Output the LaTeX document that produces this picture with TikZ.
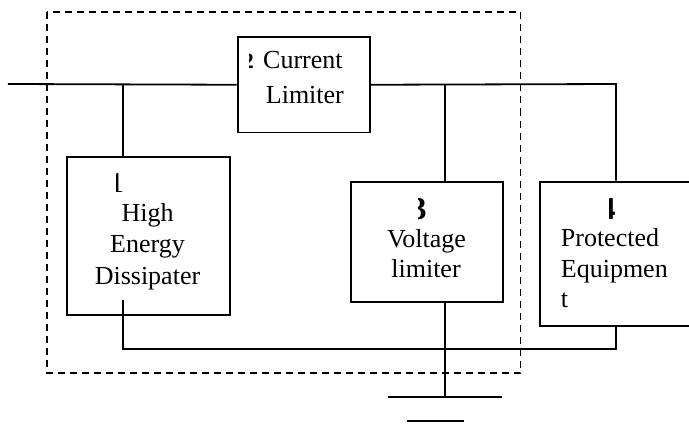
\documentclass[tikz,border=0pt]{standalone}
\usepackage{fontspec}
\setmainfont{Liberation Serif}
\begin{document}
\begin{tikzpicture}[x=1pt,y=-1pt,
  wire/.style={line width=1.8pt},
  blk/.style={draw,line width=1.8pt,rectangle,inner sep=0pt,anchor=north west},
  txt/.style={inner sep=0pt,font=\fontsize{26}{31}\selectfont},
  dig/.style={inner sep=0pt,anchor=base west},
  frame/.style={draw,line width=1.8pt,dash pattern=on 7pt off 5pt}]
\clip (0,0) rectangle (689,444);
\fill[white] (0,0) rectangle (689,444);
% dashed enclosure
\draw[frame] (47,12) rectangle (520.5,373);
% blocks
\node[blk,minimum width=132.5pt,minimum height=95.7pt] (cl) at (236.7,36) {};
\node[blk,minimum width=163pt,minimum height=158.3pt] (hed) at (66,155.7) {};
\node[blk,minimum width=152pt,minimum height=120pt] (vl) at (350,180.7) {};
\node[blk,minimum width=170pt,minimum height=144.3pt] (pe) at (539,180.7) {};
% coordinates
\coordinate (in) at (8,84);
\coordinate (j1) at (123,84);
\coordinate (j2) at (445,84);
\coordinate (j3) at (616,84);
\coordinate (h1) at (123,300);
\coordinate (h2) at (123,349);
\coordinate (p2) at (616,349);
\coordinate (g0) at (445,397);
\coordinate (ga) at (387.7,397);
\coordinate (gb) at (502,397);
\coordinate (gc) at (406.7,421);
\coordinate (gd) at (464,421);
% wires
\draw[wire] (in) -- (cl.west);
\draw[wire] (cl.east) -- (j3) -- (j3 |- pe.north);
\draw[wire] (j1) -- (j1 |- hed.north);
\draw[wire] (j2) -- (j2 |- vl.north);
\draw[wire] (h1) -- (h2) -- (p2) -- (p2 |- pe.south);
\draw[wire] (j2 |- vl.south) -- (g0);
\draw[wire] (ga) -- (gb);
\draw[wire] (gc) -- (gd);
% texts
\node[txt,anchor=base west] (clt1) at (263,69) {Current};
\node[txt,anchor=base west] (clt2) at (265.7,103) {Limiter};
\node[txt,anchor=base] (ht1) at (147.5,221.7) {High};
\node[txt,anchor=base] (ht2) at (147.5,252) {Energy};
\node[txt,anchor=base] (ht3) at (147.5,284) {Dissipater};
\node[txt,anchor=base] (vt1) at (426.5,247.3) {Voltage};
\node[txt,anchor=base] (vt2) at (426,277.3) {limiter};
\node[txt,anchor=base west] (pt1) at (560.7,246.7) {Protected};
\node[txt,anchor=base west] (pt2) at (560.7,277) {Equipmen};
\node[txt,anchor=base west] (pt3) at (560.7,307) {t};
% clipped number glyphs
\begin{scope}
\clip (116,168) rectangle (126,196);
\node[dig,font=\fontsize{29}{31}\selectfont] (n1) at (109.4,192.7) {1};
\end{scope}
\begin{scope}
\clip (249.5,48) rectangle (256,73);
\node[dig,font=\fontsize{22}{26}\selectfont\bfseries] (n2) at (242.7,69) {2};
\end{scope}
\begin{scope}
\clip (418,192) rectangle (430,223);
\node[dig,font=\fontsize{32}{36}\selectfont\bfseries] (n3) at (410.3,219) {3};
\end{scope}
\begin{scope}
\clip (609.5,192) rectangle (620,223);
\node[dig,font=\fontsize{32}{36}\selectfont\bfseries] (n4) at (599.4,219) {4};
\end{scope}
\end{tikzpicture}
\end{document}
